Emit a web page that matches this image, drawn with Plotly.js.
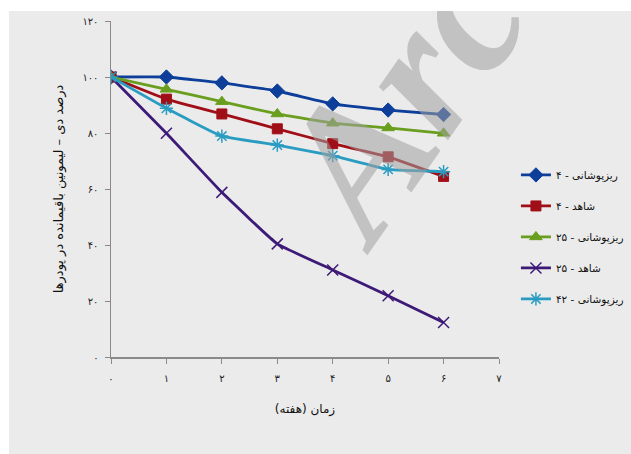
<!DOCTYPE html>
<html>
<head>
<meta charset="utf-8">
<script src="https://cdn.plot.ly/plotly-3.0.1.min.js"></script>
<style>
  html, body { margin: 0; padding: 0; background: #ffffff; width: 631px; height: 454px; overflow: hidden; }
  #chart { position: absolute; left: 9px; top: 11px; width: 622px; height: 443px; }
</style>
</head>
<body>
<div id="chart"></div>
<script>
// Weeks
const weeks = [0, 1, 2, 3, 4, 5, 6];

// Series values (% remaining d-limonene)
const encaps4  = [100, 100, 97.9, 95.0, 90.4, 88.2, 86.6];
const control4 = [100, 92.1, 86.8, 81.5, 76.2, 71.5, 64.5];
const encaps25 = [100, 95.6, 91.2, 86.8, 83.5, 81.8, 79.9];
const control25 = [100, 79.9, 58.8, 40.4, 31.1, 21.9, 12.3];
const encaps42 = [100, 88.8, 78.9, 75.7, 71.9, 67.0, 66.2];

// Series names
const seriesNames = ['ریزپوشانی - ۴', 'شاهد - ۴', 'ریزپوشانی - ۲۵', 'شاهد - ۲۵', 'ریزپوشانی - ۴۲'];

// Tick labels
const xTickVals = [0, 1, 2, 3, 4, 5, 6, 7];
const xTickText = ['۰', '۱', '۲', '۳', '۴', '۵', '۶', '۷'];
const yTickVals = [0, 20, 40, 60, 80, 100, 120];
const yTickText = ['۰', '۲۰', '۴۰', '۶۰', '۸۰', '۱۰۰', '۱۲۰'];

const xTitle = 'زمان (هفته)';
const yTitle = 'درصد دی – لیمونین باقیمانده در پودرها';

const styles = [
  {color: '#0d3f9a', symbol: 'diamond', size: 11, lw: 1},
  {color: '#a00f17', symbol: 'square', size: 10, lw: 1},
  {color: '#6a9e1f', symbol: 'triangle-up', size: 11, lw: 1},
  {color: '#3d1a78', symbol: 'x-thin-open', size: 11, lw: 1.5},
  {color: '#2a9cc2', symbol: 'asterisk-open', size: 11, lw: 1.5}
];
const allY = [encaps4, control4, encaps25, control25, encaps42];

const traces = allY.map((ys, i) => ({
  x: weeks,
  y: ys,
  name: seriesNames[i],
  legendgroup: 'g' + i,
  type: 'scatter',
  mode: 'lines+markers',
  line: {color: styles[i].color, width: 2.8, shape: 'spline', smoothing: 0.3},
  marker: {symbol: styles[i].symbol, size: styles[i].size, color: styles[i].color,
           line: {color: styles[i].color, width: styles[i].lw}}
}));

const layout = {
  width: 622,
  height: 443,
  paper_bgcolor: '#ebebeb',
  plot_bgcolor: '#ebebeb',
  margin: {l: 102, r: 132, t: 10, b: 97},
  font: {family: 'DejaVu Sans, sans-serif', color: '#222', size: 10},
  showlegend: true,
  legend: {
    xref: 'container', yref: 'container',
    x: 0.815, xanchor: 'left', y: 0.49, yanchor: 'middle',
    bgcolor: 'rgba(0,0,0,0)',
    font: {size: 10.5, color: '#111'},
    tracegroupgap: 12,
    itemwidth: 30
  },
  xaxis: {
    range: [0, 7],
    tickvals: xTickVals, ticktext: xTickText,
    showgrid: false, zeroline: false,
    showline: true, linecolor: '#8a8a8a', linewidth: 1.5,
    ticks: 'outside', ticklen: 5, tickcolor: '#8a8a8a',
    ticklabelstandoff: 6,
    tickfont: {size: 10, color: '#222'},
    title: {text: xTitle, font: {size: 12, color: '#111'}, standoff: 22}
  },
  yaxis: {
    range: [0, 120],
    tickvals: yTickVals, ticktext: yTickText,
    showgrid: false, zeroline: false,
    showline: true, linecolor: '#8a8a8a', linewidth: 1.5,
    ticks: 'outside', ticklen: 5, tickcolor: '#8a8a8a',
    ticklabelstandoff: 4,
    tickfont: {size: 10, color: '#222'},
    title: {text: yTitle, font: {size: 13, color: '#111'}, standoff: 16}
  },
  annotations: [{
    text: 'Archive',
    xref: 'paper', yref: 'paper',
    x: 0.985, y: 1.17,
    xanchor: 'center', yanchor: 'middle',
    showarrow: false,
    textangle: -55,
    font: {family: 'Liberation Serif, serif', size: 190, color: 'rgba(160,160,160,0.55)', style: 'italic', weight: 'bold'}
  }]
};

Plotly.newPlot('chart', traces, layout, {displayModeBar: false, staticPlot: true});
</script>
</body>
</html>
